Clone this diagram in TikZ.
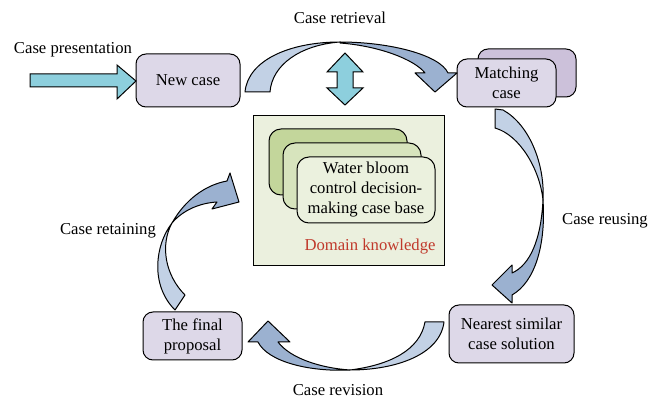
\documentclass[tikz,border=0pt]{standalone}
\usepackage{fontspec}
\setmainfont{Liberation Serif}
\usepackage{xcolor}
\usepackage{tikz}

\definecolor{boxlilac}{HTML}{DDD8E8}
\definecolor{backlilac}{HTML}{CCC1DA}
\definecolor{pale}{HTML}{C2D1E5}
\definecolor{deep}{HTML}{9BB1D0}
\definecolor{cyanblock}{HTML}{8DCFDD}
\definecolor{domfill}{HTML}{EBF0DE}
\definecolor{greenA}{HTML}{C3D69B}
\definecolor{greenB}{HTML}{D7E4BD}
\definecolor{greenC}{HTML}{EBF1DE}
\definecolor{domred}{HTML}{C0392B}

\tikzset{
    casebox/.style={draw, fill=boxlilac, rounded corners=7.5pt, line width=0.75pt,
        align=center, inner sep=0pt},
    stackbox/.style={draw, rounded corners=9pt, line width=0.75pt,
        minimum width=103.5pt, minimum height=49.5pt, inner sep=0pt, align=center},
    lightpart/.style={draw, fill=pale, line width=0.75pt, line join=round},
    darkpart/.style={draw, fill=deep, line width=0.75pt, line join=round},
    blockarr/.style={draw, fill=cyanblock, line width=0.75pt},
    lbl/.style={inner sep=0pt}
}

\begin{document}
\begin{tikzpicture}[x=0.75pt, y=-0.75pt, font=\fontsize{12.5}{15}\selectfont]
        \useasboundingbox (0,0) rectangle (662,399);

        % boxes
        \node[casebox, minimum width=78pt, minimum height=39.75pt] (newcase) at (188,80.5) {New case};
        \node[casebox, fill=backlilac, minimum width=73.5pt, minimum height=36pt] (matchback) at (527,73) {};
        \node[casebox, minimum width=74.25pt, minimum height=36pt] (match) at (506.5,83) {Matching\\case};
        \node[casebox, minimum width=93.75pt, minimum height=43.5pt] (nearest) at (511.5,334) {Nearest similar\\case solution};
        \node[casebox, minimum width=74.25pt, minimum height=36pt] (final) at (192.5,336) {The final\\proposal};

        % domain knowledge
        \node[draw, fill=domfill, line width=0.6pt, minimum width=143.25pt, minimum height=112.5pt] (domain) at (348.5,190) {};
        \node[stackbox, fill=greenA] (base1) at (338,162) {};
        \node[stackbox, fill=greenB] (base2) at (352,176) {};
        \node[stackbox, fill=greenC] (base3) at (366,190) {Water bloom\\control decision-\\making case base};
        \node[lbl, text=domred] (know) at (370,247) {Domain knowledge};

        % straight block arrows
        \draw[blockarr] (30,74) -- (117,74) -- (117,65) -- (136,81) -- (117,99) -- (117,87) -- (30,87) -- cycle;
        \draw[blockarr] (345,53) -- (363,72) -- (353,72) -- (353,88) -- (363,88) -- (345,105)
            -- (327,88) -- (337,88) -- (337,72) -- (327,72) -- cycle;

        % case retrieval
        \draw[lightpart] (245,92) .. controls (248,60) and (290,42) .. (340,42)
            .. controls (300,45) and (272,65) .. (270,92) -- cycle;
        \draw[darkpart] (340,42) .. controls (390,42) and (440,55) .. (448,73) -- (457,73) -- (435,92)
            -- (415,73) -- (425,73) .. controls (415,60) and (380,46) .. (340,43) -- cycle;

        % case reusing
        \draw[lightpart] (495,109) -- (503,110) .. controls (530,125) and (545,165) .. (543,200)
            .. controls (540,170) and (520,135) .. (495,128) -- cycle;
        \draw[darkpart] (543,200) .. controls (541,240) and (530,265) .. (512,273) -- (512,265) -- (492,285)
            -- (512,303) -- (512,295) .. controls (535,282) and (546,245) .. (543,200) -- cycle;

        % case revision
        \draw[lightpart] (425,322) -- (444,322) .. controls (440,355) and (395,370) .. (350,370)
            .. controls (390,365) and (420,350) .. (425,322) -- cycle;
        \draw[darkpart] (350,370) .. controls (310,372) and (268,362) .. (258,342) -- (248,342) -- (268,321)
            -- (290,342) -- (278,342) .. controls (290,358) and (320,368) .. (350,370) -- cycle;

        % case retaining
        \draw[lightpart] (175,310) -- (185,295) .. controls (165,275) and (160,245) .. (172,223)
            .. controls (155,245) and (150,285) .. (175,310) -- cycle;
        \draw[darkpart] (172,223) .. controls (185,200) and (205,185) .. (227,181) -- (230,173) -- (239,202)
            -- (212,209) -- (217,202) .. controls (200,203) and (183,210) .. (172,223) -- cycle;

        % labels
        \node[lbl] (present) at (73,50) {Case presentation};
        \node[lbl] (retrieve) at (340,18) {Case retrieval};
        \node[lbl] (reuse) at (605,221) {Case reusing};
        \node[lbl] (retain) at (108,231) {Case retaining};
        \node[lbl] (revise) at (338,390) {Case revision};
    \end{tikzpicture}
\end{document}
